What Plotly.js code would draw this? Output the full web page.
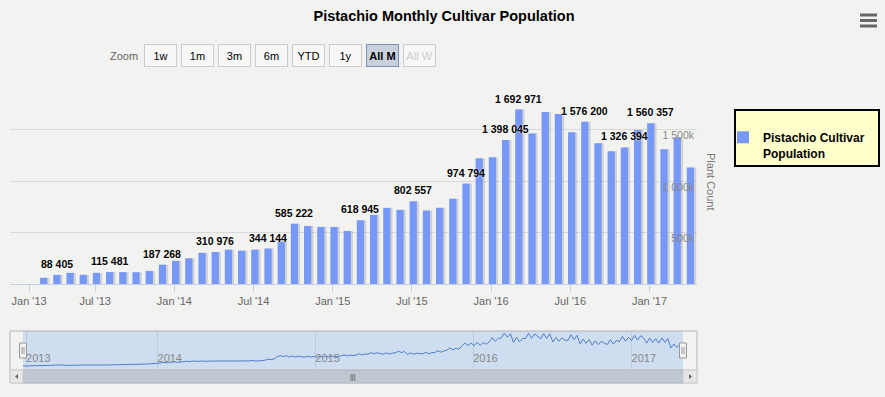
<!DOCTYPE html>
<html><head><meta charset="utf-8">
<script src="https://cdn.plot.ly/plotly-3.0.1.min.js"></script>
<style>html,body{margin:0;padding:0;background:#f2f2f0;} #chart{width:885px;height:397px;}</style>
</head><body><div id="chart"></div>
<script>
// ---- data ----
const months = ['2013-03','2013-04','2013-05','2013-06','2013-07','2013-08','2013-09','2013-10','2013-11','2013-12',
  '2014-01','2014-02','2014-03','2014-04','2014-05','2014-06','2014-07','2014-08','2014-09','2014-10','2014-11','2014-12',
  '2015-01','2015-02','2015-03','2015-04','2015-05','2015-06','2015-07','2015-08','2015-09','2015-10','2015-11','2015-12',
  '2016-01','2016-02','2016-03','2016-04','2016-05','2016-06','2016-07','2016-08','2016-09','2016-10','2016-11','2016-12',
  '2017-01','2017-02','2017-03','2017-04'];
const population = [60000,88405,108000,89000,108000,115481,115000,114000,127000,187268,
  225000,249000,303000,310976,333000,323000,333000,344144,411000,585222,564000,554000,
  554000,515000,618945,671000,739000,720000,802557,713000,740000,827000,974794,1220000,
  1230000,1398045,1692971,1461000,1669000,1650000,1474000,1576200,1367000,1289000,1326394,1494000,
  1560357,1308000,1422000,1130000];
const labeledIdx = [1,5,9,13,17,19,24,28,32,35,36,41,44,46];
const xTickText = ["Jan '13","Jul '13","Jan '14","Jul '14","Jan '15","Jul '15","Jan '16","Jul '16","Jan '17"];
const xTickIdx = [-1,4,10,16,22,28,34,40,46];
const yTickVals = [0,500000,1000000,1500000,2000000];
const yTickText = ['0k','500k','1 000k','1 500k',''];
// weekly series shown in the navigator (thousands), first week starting 2013-02-24
const navStart = '2013-02-24';
const weeklyK = [13,
  13,14,14,15,16, 19,21,20,21, 24,26,25,26, 21,20,22,21,20, 24,26,25,25, 27,26,28,27, 27,26,27,28,26,
  26,27,25,27, 28,30,29,29, 34,38,42,44,40,
  48,54,50,55, 60,64,58,66, 66,72,68,74,70, 70,76,70,74, 74,80,76,79, 72,78,74,77,73,
  74,80,76,79, 76,82,74,80,78, 86,98,92,102, 128,142,130,140, 124,136,126,134,128, 122,134,124,132,
  120,136,124,132, 122,136,126,132, 136,150,138,148,142, 148,164,150,160, 160,178,164,176,168,
  158,176,160,172, 176,196,178,192, 154,176,158,172,164, 162,182,164,178, 180,202,184,198,
  208,236,214,232,222, 262,300,266,296,
  262,306,268,302,282, 310,362,318,354, 360,420,368,412, 306,368,312,352, 352,418,356,410,384,
  348,414,352,410, 310,366,318,360,332, 330,398,338,392, 286,346,292,340, 270,324,276,318,296,
  278,336,284,328, 314,378,320,368,
  326,392,332,386,358, 296,358,302,350, 296,360,304,352, 236,284,242,280,262];
const navYearText = ['2013','2014','2015','2016','2017'];
const navYearDates = ['2013-03-03','2014-01-01','2015-01-01','2016-01-01','2017-01-01'];
const zoomButtons = ['1w','1m','3m','6m','YTD','1y','All M','All W'];
const seriesName = 'Pistachio Cultivar<br>Population';

// ---- layout helpers ----
const W=885,H=397,M={l:10,r:188,t:78,b:14,autoexpand:false};
const PW=W-M.l-M.r, PH=H-M.t-M.b;
const px=x=>(x-M.l)/PW, py=y=>(H-M.b-y)/PH;
const FONT="'Liberation Sans',Arial,sans-serif";
const fmt=v=>Math.round(v).toString().replace(/\B(?=(\d{3})+(?!\d))/g,' ');
const idx=months.map((m,i)=>i);
const d0=new Date(navStart+'T00:00:00Z');
const navDates=weeklyK.map((v,i)=>new Date(d0.getTime()+i*7*864e5).toISOString().slice(0,10));
const navValues=weeklyK.map(v=>v*1000);

const traces=[
  {type:'bar',x:idx.map(i=>i+0.14),y:population,width:0.6,marker:{color:'rgba(0,0,0,0.13)'},hoverinfo:'skip',showlegend:false},
  {type:'bar',x:idx,y:population,width:0.55,marker:{color:'#7798f7',line:{width:0}},name:seriesName},
  {type:'scatter',mode:'lines',x:navDates,y:navValues,xaxis:'x2',yaxis:'y2',line:{color:'#4f7fcc',width:1},showlegend:false,hoverinfo:'skip'}
];

const P={xref:'paper',yref:'paper',xanchor:'center',yanchor:'middle',showarrow:false};
const annotations=labeledIdx.map(i=>({x:i,y:population[i],xref:'x',yref:'y',text:'<b>'+fmt(population[i])+'</b>',showarrow:false,
  xanchor:'center',yanchor:'bottom',yshift:3,font:{family:FONT,size:10.5,color:'#000',shadow:'0px 0px 2px #fff'}}));

// zoom buttons
annotations.push({...P,x:px(124),y:py(55.5),text:'Zoom',font:{family:FONT,size:11,color:'#666'}});
zoomButtons.forEach((b,k)=>{
  const x0=144+k*37, sel=(b==='All M'), dis=(b==='All W');
  annotations.push({...P,x:px(x0+16.3),y:py(55.5),text:sel?'<b>'+b+'</b>':b,
    width:31,height:21,borderpad:0,borderwidth:1,bordercolor:sel?'#7d93b5':'#cccccc',bgcolor:sel?'#c9d1dd':'#f7f7f7',
    font:{family:FONT,size:11,color:dis?'#cccccc':'#000'}});
});
// y axis title
annotations.push({...P,x:px(711),y:py(182),text:'Plant Count',textangle:90,font:{family:FONT,size:11,color:'#777'}});
// scrollbar grip
annotations.push({...P,x:px(353),y:py(376.5),text:'|||',font:{family:FONT,size:7,color:'#333'}});

const shapes=[
  // hamburger
  ...[15,20.5,26].map(y=>({type:'line',xref:'paper',yref:'paper',x0:px(860),x1:px(877),y0:py(y),y1:py(y),line:{color:'#666',width:3}})),
  // legend box
  {type:'rect',xref:'paper',yref:'paper',x0:px(735),x1:px(879),y0:py(166),y1:py(110),fillcolor:'#ffffcc',line:{color:'#000',width:2}},
  // navigator mask
  {type:'rect',xref:'paper',yref:'paper',x0:px(23),x1:px(683),y0:py(370),y1:py(331),fillcolor:'rgba(100,160,235,0.25)',line:{width:0},layer:'below'},
  // navigator outline
  {type:'line',xref:'paper',yref:'paper',x0:px(10),x1:px(697),y0:py(331),y1:py(331),line:{color:'#b2b1b6',width:1}},
  {type:'line',xref:'paper',yref:'paper',x0:px(10),x1:px(10),y0:py(331),y1:py(370),line:{color:'#b2b1b6',width:1}},
  {type:'line',xref:'paper',yref:'paper',x0:px(697),x1:px(697),y0:py(331),y1:py(370),line:{color:'#b2b1b6',width:1}},
  // scrollbar track and thumb
  {type:'rect',xref:'paper',yref:'paper',x0:px(10),x1:px(697),y0:py(383),y1:py(370),fillcolor:'#eeeeee',line:{color:'#cccccc',width:1}},
  {type:'rect',xref:'paper',yref:'paper',x0:px(23),x1:px(683),y0:py(383),y1:py(370),fillcolor:'#bfc8d1',line:{color:'#b0b8c2',width:1}},
  {type:'rect',xref:'paper',yref:'paper',x0:px(10),x1:px(23),y0:py(383),y1:py(370),fillcolor:'#e6e6e6',line:{color:'#cccccc',width:1}},
  {type:'rect',xref:'paper',yref:'paper',x0:px(683),x1:px(697),y0:py(383),y1:py(370),fillcolor:'#e6e6e6',line:{color:'#cccccc',width:1}},
  {type:'path',xref:'paper',yref:'paper',path:`M ${px(18)} ${py(374)} L ${px(15)} ${py(376.5)} L ${px(18)} ${py(379)} Z`,fillcolor:'#666',line:{width:0}},
  {type:'path',xref:'paper',yref:'paper',path:`M ${px(689)} ${py(374)} L ${px(692)} ${py(376.5)} L ${px(689)} ${py(379)} Z`,fillcolor:'#666',line:{width:0}},
  // handles
  ...[23,683].map(x=>({type:'rect',xref:'paper',yref:'paper',x0:px(x-3.5),x1:px(x+3.5),y0:py(358),y1:py(343),fillcolor:'#f2f2f2',line:{color:'#999',width:1}})),
  ...[23,683].flatMap(x=>[x-1,x+1].map(xx=>({type:'line',xref:'paper',yref:'paper',x0:px(xx),x1:px(xx),y0:py(354),y1:py(347),line:{color:'#999',width:1}})))
];

const layout={
  width:W,height:H,margin:M,paper_bgcolor:'#f2f2f0',plot_bgcolor:'rgba(0,0,0,0)',
  font:{family:FONT},
  title:{text:'<b>Pistachio Monthly Cultivar Population</b>',xref:'container',yref:'container',x:444/W,y:1-16/H,xanchor:'center',yanchor:'middle',
    font:{family:FONT,size:14.5,color:'#000'}},
  barmode:'overlay',
  showlegend:true,
  legend:{x:px(723),y:py(123),xanchor:'left',yanchor:'top',valign:'top',bgcolor:'rgba(0,0,0,0)',borderwidth:0,
    font:{family:FONT,size:12,color:'#000',weight:'bold'}},
  xaxis:{domain:[0,1],anchor:'y',range:[-2.55,49.5],tickvals:xTickIdx.map(v=>v-0.1),ticktext:xTickText,ticks:'outside',ticklen:7,
    tickcolor:'#c0d0e0',showline:true,linecolor:'#c0d0e0',showgrid:false,zeroline:false,tickfont:{family:FONT,size:11,color:'#666'},fixedrange:true},
  yaxis:{domain:[py(284),1],anchor:'x',range:[0,2000000],side:'right',tickvals:yTickVals,ticktext:yTickText,ticklabelposition:'inside',
    ticklabelshift:6,gridcolor:'#d9d9d9',zeroline:false,showline:false,ticks:'',tickfont:{family:FONT,size:10.5,color:'#888'}},
  xaxis2:{domain:[px(23),px(683)],anchor:'y2',type:'date',range:[navDates[0],navDates[navDates.length-1]],tickvals:navYearDates,ticktext:navYearText,
    ticklabelposition:'inside right',showgrid:true,gridcolor:'#bccbdd',showline:false,ticks:'',zeroline:false,tickfont:{family:FONT,size:11,color:'#888'}},
  yaxis2:{domain:[py(370),py(331)],anchor:'x2',range:[-36000,445000],visible:false},
  annotations,shapes
};
Plotly.newPlot('chart',traces,layout,{displayModeBar:false,staticPlot:true});
</script></body></html>
